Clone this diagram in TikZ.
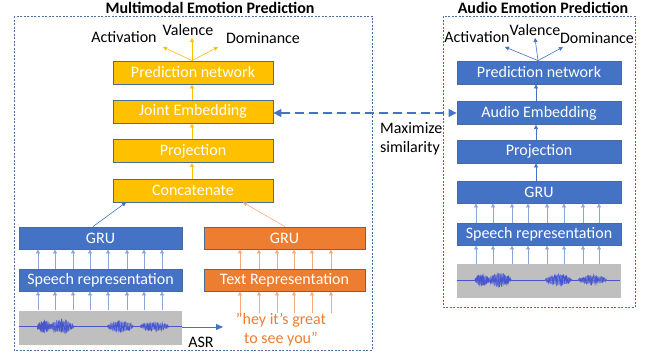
\documentclass[tikz,border=0pt]{standalone}
\usepackage{fontspec}
\setmainfont{Carlito}
\usetikzlibrary{arrows.meta}
\definecolor{yel}{HTML}{FFC000}
\definecolor{blu}{HTML}{4472C4}
\definecolor{ora}{HTML}{ED7D31}
\definecolor{edgec}{HTML}{4A6B9A}
\definecolor{framec}{HTML}{4A6FA5}
\definecolor{wgray}{HTML}{BFBFBF}
\definecolor{wblue}{HTML}{4656CD}
\definecolor{lblu}{HTML}{8AA6DA}
\definecolor{lora}{HTML}{F3AD7C}
\begin{document}
\begin{tikzpicture}[x=1pt,y=-1pt,font=\fontsize{16}{19}\selectfont,
  box/.style={draw=edgec,line width=0.8pt,text=white,minimum height=23pt,inner sep=0pt},
  ybox/.style={box,fill=yel,minimum width=160pt},
  bbox/.style={box,fill=blu,minimum width=164pt},
  lbbox/.style={box,fill=blu,minimum width=163pt,minimum height=22pt},
  obox/.style={box,fill=ora,minimum width=161pt,minimum height=22pt},
  wavebox/.style={fill=wgray,minimum width=163pt,minimum height=34pt,inner sep=0pt},
  frame/.style={draw=framec,line width=0.8pt,dash pattern=on 2pt off 1.5pt},
  tip/.style={-{Triangle[width=4pt,length=4pt]}},
  yarr/.style={tip,draw=yel,line width=0.6pt},
  barr/.style={tip,draw=lblu,line width=0.7pt},
  bbarr/.style={tip,draw=blu,line width=0.6pt},
  oarr/.style={tip,draw=lora,line width=0.7pt},
  title/.style={font=\fontsize{16}{19}\selectfont\bfseries},
  wavepic/.pic={
    \draw[wblue,line width=0.5pt] (0,-1) -- (163,-1);
    \foreach \a/\b/\m in {18/33/6,31/55/7,88/115/6,121/150/5}{
      \fill[wblue!80,opacity=0.75] plot[domain=\a:\b,samples=45] (\x,{-1-\m*sin(180*(\x-\a)/(\b-\a))^0.6*(0.75+0.25*rand)})
        -- plot[domain=\b:\a,samples=45] (\x,{-1+\m*sin(180*(\x-\a)/(\b-\a))^0.6*(0.75+0.25*rand)}) -- cycle;
      \draw[wblue,line width=0.35pt] plot[domain=\a:\b,samples=110] (\x,{-1+1.1*\m*sin(180*(\x-\a)/(\b-\a))^0.6*rand});
    }
  }
]
\useasboundingbox (0,0) rectangle (651,356);
\pgfmathsetseed{7}

% frames and titles
\draw[frame] (14,16) rectangle (372,350);
\draw[frame] (443,16) rectangle (635,307);
\node[title] (t1) at (210,8) {Multimodal Emotion Prediction};
\node[title] (t2) at (543,8) {Audio Emotion Prediction};

% left column
\node[ybox] (pn) at (193,72.5) {Prediction network};
\node[ybox] (je) at (193,111.5) {Joint Embedding};
\node[ybox] (pj) at (193,151) {Projection};
\node[ybox] (cc) at (193,190.5) {Concatenate};
\node[lbbox] (gl) at (100.5,238) {GRU};
\node[lbbox] (sl) at (100.5,280) {Speech representation};
\node[wavebox] (wl) at (100.5,327.5) {};
\pic at (wl.west) {wavepic};
\node[obox] (go) at (284.5,238) {GRU};
\node[obox] (tr) at (284.5,280) {Text Representation};
\node[text=ora,align=center,inner sep=0pt] (tx) at (281,329.5) {”hey it’s great\\to see you”};
\node[inner sep=0pt] (asr) at (201,342) {ASR};
\coordinate (asrend) at (223,327);

\node[inner sep=0pt] (a1) at (124,37) {Activation};
\node[inner sep=0pt] (v1) at (188,30) {Valence};
\node[inner sep=0pt] (d1) at (263,38) {Dominance};
\coordinate (a1t) at (163,47);
\coordinate (v1t) at (192,38);
\coordinate (d1t) at (218,47);
\draw[yarr] (pn.north -| 192,0) -- (a1t);
\draw[yarr] (pn.north -| 192,0) -- (v1t);
\draw[yarr] (pn.north -| 192,0) -- (d1t);
\draw[yarr] (je.north -| 192,0) -- (pn.south -| 192,0);
\draw[yarr] (pj.north -| 192,0) -- (je.south -| 192,0);
\draw[yarr] (cc.north -| 192,0) -- (pj.south -| 192,0);
\draw[bbarr] (gl.north -| 93,0) -- (cc.south -| 126,0);
\draw[tip,draw=lora,line width=0.6pt] (go.north -| 285,0) -- (cc.south -| 243,0);
\foreach \x in {38,55,73,90,108,127,144,162}{
  \draw[barr] (wl.north -| \x,0) -- (sl.south -| \x,0);
  \draw[barr] (sl.north -| \x,0) -- (gl.south -| \x,0);
}
\foreach \x in {240,259,277,294,312,331}{
  \draw[oarr] (tx.north -| \x,0) -- (tr.south -| \x,0);
  \draw[oarr] (tr.north -| \x,0) -- (go.south -| \x,0);
}
\draw[{Triangle[width=6pt,length=7pt]}-,draw=blu,fill=blu,line width=1pt] (asrend) -- (wl.east |- asrend);

% right column
\node[bbox] (pr) at (539,72.5) {Prediction network};
\node[bbox] (ae) at (539,113) {Audio Embedding};
\node[bbox] (pr2) at (539,151.5) {Projection};
\node[bbox,minimum height=22pt] (gr) at (539,192) {GRU};
\node[bbox,minimum height=22pt] (sr) at (539,234) {Speech representation};
\node[wavebox,minimum width=164pt] (wr) at (539,281) {};
\pic at (wr.west) {wavepic};

\node[inner sep=0pt] (a2) at (477,37) {Activation};
\node[inner sep=0pt] (v2) at (535,30) {Valence};
\node[inner sep=0pt] (d2) at (597,38) {Dominance};
\coordinate (a2t) at (505,47);
\coordinate (v2t) at (535,38);
\coordinate (d2t) at (563,47);
\draw[bbarr] (pr.north -| 538,0) -- (a2t);
\draw[bbarr] (pr.north -| 538,0) -- (v2t);
\draw[bbarr] (pr.north -| 538,0) -- (d2t);
\draw[bbarr] (ae.north -| 536,0) -- (pr.south -| 536,0);
\draw[bbarr] (pr2.north -| 536,0) -- (ae.south -| 536,0);
\draw[bbarr] (gr.north -| 536,0) -- (pr2.south -| 536,0);
\foreach \x in {476,493,512,528,547,564,583,599}{
  \draw[barr] (wr.north -| \x,0) -- (sr.south -| \x,0);
  \draw[barr] (sr.north -| \x,0) -- (gr.south -| \x,0);
}

% similarity
\draw[{Triangle[width=8pt,length=8pt]}-{Triangle[width=8pt,length=8pt]},draw=blu,fill=blu,line width=1.5pt,dash pattern=on 9pt off 5pt] (je.east |- ae.west) -- (ae.west);
\node[align=left,anchor=west,inner sep=0pt] (ms) at (380,139) {Maximize\\similarity};
\end{tikzpicture}
\end{document}
